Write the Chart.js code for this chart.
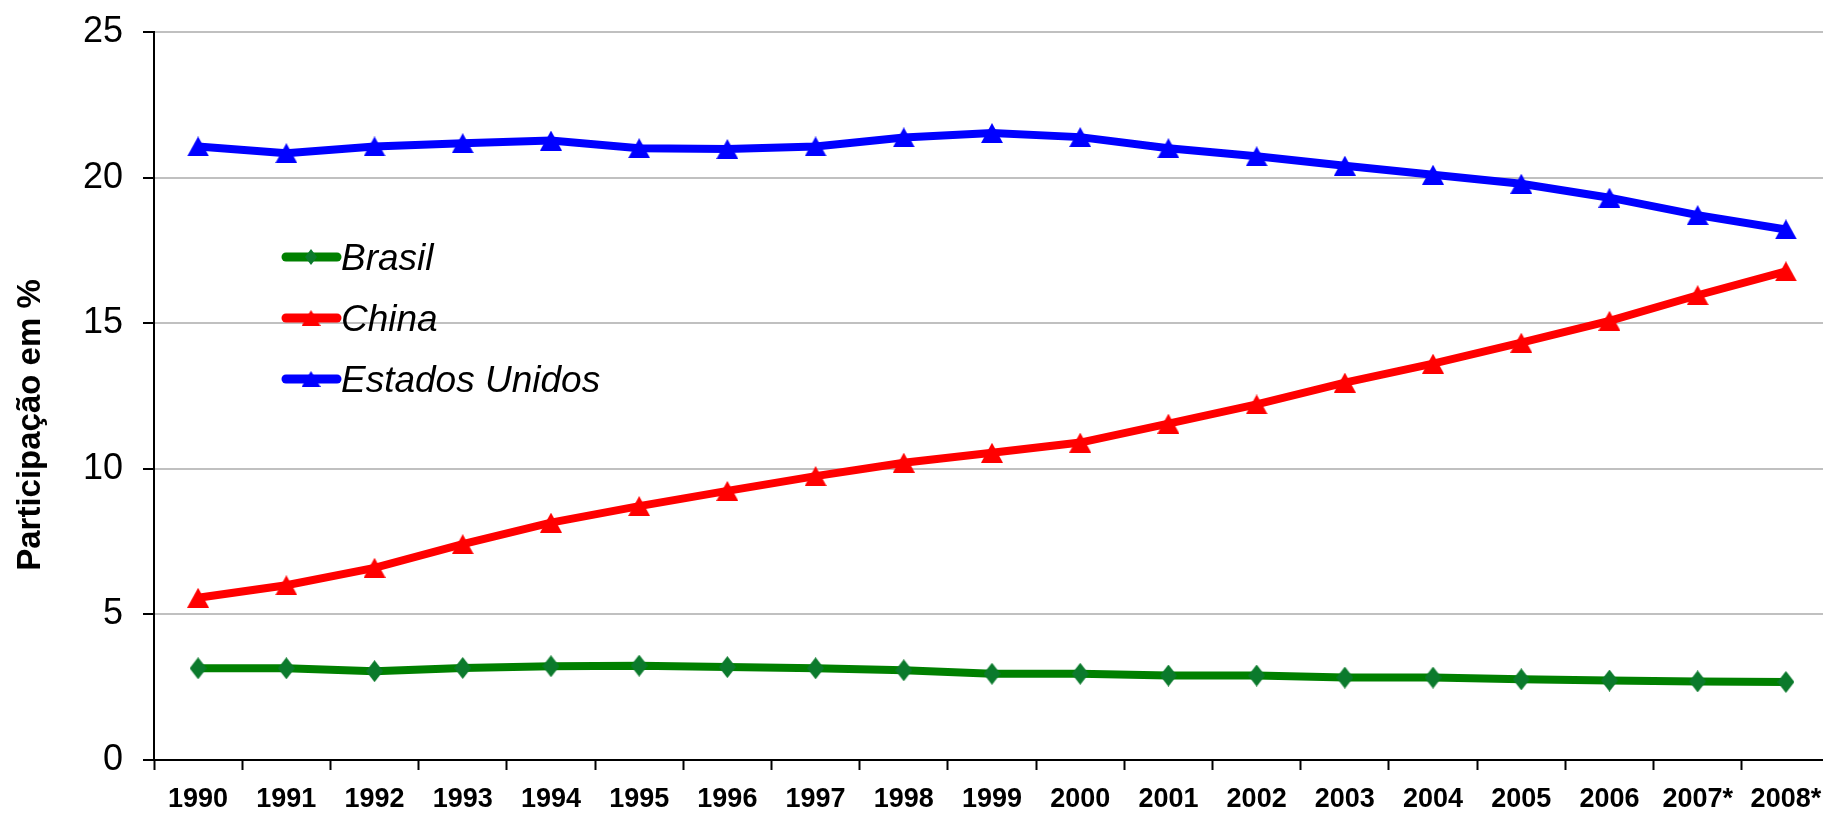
<!DOCTYPE html>
<html>
<head>
<meta charset="utf-8">
<script src="https://cdn.jsdelivr.net/npm/chart.js@4.4.1/dist/chart.umd.min.js"></script>
<style>
  html, body { margin: 0; padding: 0; background: #fff; overflow: hidden; }
  /* o original é cortado um pouco à direita: o canvas passa 7px da janela */
  #wrap { width: 1830px; height: 813px; position: relative; }
</style>
</head>
<body>
<div id="wrap"><canvas id="grafico"></canvas></div>
<script>
// Dados (participação em %)
const anos = ['1990','1991','1992','1993','1994','1995','1996','1997','1998','1999',
              '2000','2001','2002','2003','2004','2005','2006','2007*','2008*'];
const brasil = [3.15,3.15,3.05,3.16,3.22,3.24,3.19,3.15,3.08,2.96,2.96,2.90,2.90,2.83,2.83,2.77,2.73,2.70,2.68];
const china = [5.57,6.00,6.60,7.41,8.15,8.72,9.24,9.75,10.21,10.55,10.90,11.55,12.21,12.96,13.61,14.33,15.08,15.96,16.78];
const eua = [21.07,20.84,21.07,21.18,21.27,21.01,20.98,21.07,21.38,21.53,21.39,21.01,20.73,20.41,20.10,19.79,19.31,18.71,18.22];
const yTicks = [0, 5, 10, 15, 20, 25];
const tituloY = 'Participação em %';

const fonte = '"Liberation Sans", Arial, Helvetica, sans-serif';

// marcadores desenhados num canvas pequeno (triângulo / losango)
function marcador(tipo, cor, w, h) {
  const c = document.createElement('canvas');
  c.width = w; c.height = h;
  const g = c.getContext('2d');
  g.fillStyle = cor;
  g.beginPath();
  if (tipo === 'tri') {
    g.moveTo(w / 2, 0); g.lineTo(w, h); g.lineTo(0, h);
  } else {
    g.moveTo(w / 2, 0); g.lineTo(w, h / 2); g.lineTo(w / 2, h); g.lineTo(0, h / 2);
  }
  g.closePath();
  g.fill();
  return c;
}
const losangoVerde = marcador('los', '#0b7a2c', 17, 22);
const triVermelho = marcador('tri', '#ff0000', 22, 20);
const triAzul = marcador('tri', '#0000ff', 22, 20);
const losangoLeg = marcador('los', '#0b7a2c', 12, 16);
const triVermLeg = marcador('tri', '#ff0000', 19, 16);
const triAzulLeg = marcador('tri', '#0000ff', 19, 16);

// legenda dentro do gráfico
const legendaInterna = {
  id: 'legendaInterna',
  afterDraw(chart) {
    const ctx = chart.ctx;
    const marcas = [losangoLeg, triVermLeg, triAzulLeg];
    chart.data.datasets.forEach((ds, i) => {
      const y = 257 + i * 61;
      ctx.save();
      ctx.strokeStyle = ds.borderColor;
      ctx.lineWidth = 9;
      ctx.lineCap = 'round';
      ctx.beginPath();
      ctx.moveTo(286, y);
      ctx.lineTo(337, y);
      ctx.stroke();
      Chart.helpers.drawPoint(ctx, { pointStyle: marcas[i], radius: 8, rotation: 0, borderWidth: 0 }, 311, y);
      ctx.fillStyle = '#000';
      ctx.font = 'italic 37px ' + fonte;
      ctx.textBaseline = 'alphabetic';
      ctx.fillText(ds.label, 341, y + 13);
      ctx.restore();
    });
  }
};

// título do eixo Y
const tituloEixo = {
  id: 'tituloEixo',
  afterDraw(chart) {
    const ctx = chart.ctx;
    ctx.save();
    ctx.translate(31, 425);
    ctx.rotate(-Math.PI / 2);
    ctx.fillStyle = '#000';
    ctx.font = 'bold 33px ' + fonte;
    ctx.textAlign = 'center';
    ctx.textBaseline = 'middle';
    ctx.fillText(tituloY, 0, 0);
    ctx.restore();
  }
};

const ctx = document.getElementById('grafico').getContext('2d');
new Chart(ctx, {
  type: 'line',
  data: {
    labels: anos,
    datasets: [
      {
        label: 'Brasil',
        data: brasil,
        borderColor: '#008000',
        borderWidth: 8,
        pointStyle: losangoVerde,
        pointRadius: 10,
        tension: 0
      },
      {
        label: 'China',
        data: china,
        borderColor: '#ff0000',
        borderWidth: 8,
        pointStyle: triVermelho,
        pointRadius: 10,
        tension: 0
      },
      {
        label: 'Estados Unidos',
        data: eua,
        borderColor: '#0000ff',
        borderWidth: 8,
        pointStyle: triAzul,
        pointRadius: 10,
        tension: 0
      }
    ]
  },
  options: {
    responsive: true,
    maintainAspectRatio: false,
    animation: false,
    events: [],
    layout: {
      autoPadding: false,
      padding: { top: 32, right: 0, left: 0, bottom: 0 }
    },
    plugins: {
      legend: { display: false },
      tooltip: { enabled: false }
    },
    scales: {
      x: {
        offset: true,
        afterFit: s => { s.height = 53; s.paddingLeft = 0; s.paddingRight = 0; },
        border: { color: '#000', width: 2 },
        grid: {
          offset: true,
          drawOnChartArea: false,
          drawTicks: true,
          tickLength: 10,
          tickColor: '#000',
          tickWidth: 2
        },
        ticks: {
          color: '#000',
          padding: 13,
          maxRotation: 0,
          autoSkip: false,
          font: { family: fonte, size: 27, weight: 'bold' }
        }
      },
      y: {
        min: 0,
        max: 25,
        afterFit: s => { s.width = 154; s.paddingTop = 0; s.paddingBottom = 0; },
        afterBuildTicks: s => { s.ticks = yTicks.map(v => ({ value: v })); },
        border: { color: '#000', width: 2 },
        grid: {
          color: '#c0c0c0',
          lineWidth: 2,
          tickColor: '#000',
          tickWidth: 2,
          tickLength: 11
        },
        ticks: {
          color: '#000',
          padding: 20,
          font: { family: fonte, size: 36 }
        }
      }
    }
  },
  plugins: [legendaInterna, tituloEixo]
});
</script>
</body>
</html>
